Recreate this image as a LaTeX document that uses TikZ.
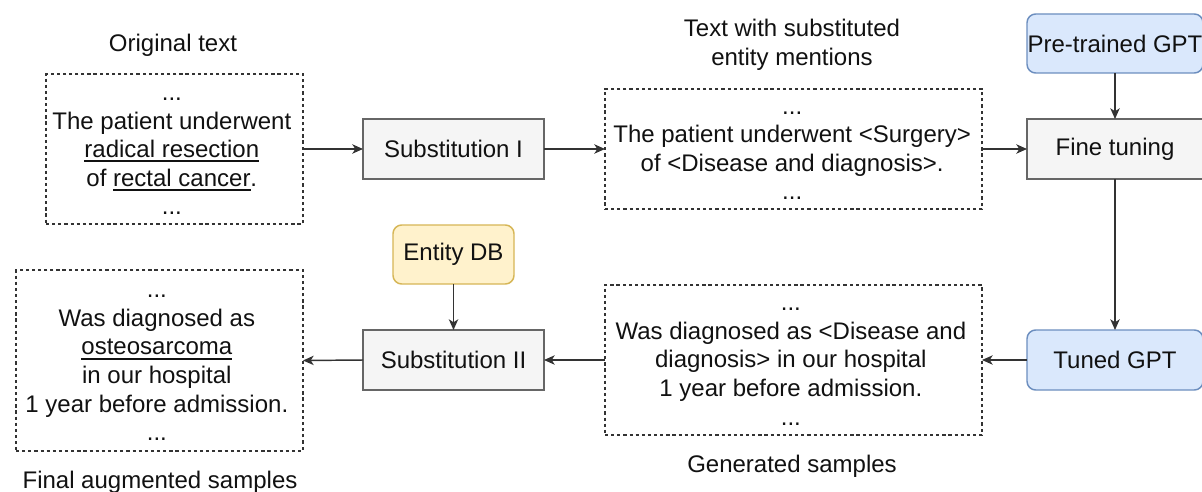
\documentclass[tikz,border=0pt]{standalone}
\usepackage{fontspec}
\setmainfont{Liberation Sans}
\usetikzlibrary{arrows.meta}
\definecolor{grayfill}{HTML}{F5F5F5}
\definecolor{grayline}{HTML}{666666}
\definecolor{bluefill}{HTML}{DAE8FC}
\definecolor{blueline}{HTML}{6C8EBF}
\definecolor{yelfill}{HTML}{FFF2CC}
\definecolor{yelline}{HTML}{D6B656}
\definecolor{txt}{HTML}{111111}
\definecolor{arr}{HTML}{333333}
\newcommand{\ulx}[1]{\setbox0\hbox{#1}\rlap{\vrule width\wd0 height -2.0pt depth 3.4pt}\box0}
\begin{document}
\begin{tikzpicture}[x=0.75pt,y=-0.75pt,
  every node/.style={font=\fontsize{18}{21.4}\selectfont, text=txt, outer sep=0pt, inner sep=0pt, align=center},
  dashbox/.style={draw=arr, line width=1.1pt, dash pattern=on 2.4pt off 2.2pt, fill=white},
  graybox/.style={draw=grayline, line width=1.1pt, fill=grayfill, minimum width=135.75pt, minimum height=45pt},
  bluebox/.style={draw=blueline, line width=1.1pt, fill=bluefill, rounded corners=6.5pt, minimum width=132pt},
  yelbox/.style={draw=yelline, line width=1.1pt, fill=yelfill, rounded corners=6.5pt, minimum width=90.75pt, minimum height=44.25pt},
  conn/.style={draw=arr, line width=1.1pt, -{Stealth[length=8pt, width=7pt, inset=2.2pt]}},
  title/.style={}]
\clip (0,0) rectangle (1202,492);
\fill[white] (0,0) rectangle (1202,492);

% titles
\node[title] (t1) at (173,45) {Original text};
\node[title] (t2) at (792,45) {Text with substituted\\entity mentions};
\node[title] (t3) at (792,466) {Generated samples};
\node[title] (t4) at (160,482) {Final augmented samples};

% text boxes
\node[dashbox, minimum width=192.75pt, minimum height=112.5pt] (b1) at (174.5,149) {};
\node (b1t) at ([xshift=-2pt,yshift=-5.6pt]b1.center)
  {...\\The patient underwent\\\ulx{radical resection}\\of \ulx{rectal cancer}.\\...};
\node[dashbox, minimum width=282.75pt, minimum height=90pt] (b2) at (793.5,149) {};
\node (b2t) at ([xshift=-1pt,yshift=-5pt]b2.center)
  {...\\The patient underwent <Surgery>\\of <Disease and diagnosis>.\\...};
\node[dashbox, minimum width=282.75pt, minimum height=112.5pt] (b3) at (793.5,360) {};
\node (b3t) at ([xshift=-2pt,yshift=-5pt]b3.center)
  {...\\Was diagnosed as <Disease and\\diagnosis> in our hospital\\1 year before admission.\\...};
\node[dashbox, minimum width=215.25pt, minimum height=135.75pt] (b4) at (159.5,360.5) {};
\node (b4t) at ([xshift=-2pt,yshift=-5.6pt]b4.center)
  {...\\Was diagnosed as\\\ulx{osteosarcoma}\\in our hospital\\1 year before admission.\\...};

% process boxes
\node[graybox] (s1) at (453.5,149) {Substitution I};
\node[graybox] (s2) at (453.5,360) {Substitution II};
\node[graybox, minimum width=132pt] (ft) at (1115,149) {Fine tuning};
\node[bluebox, minimum height=44.25pt] (pg) at (1115,43.5) {Pre-trained GPT};
\node[bluebox, minimum height=45pt] (tg) at (1115,360) {Tuned GPT};
\node[yelbox] (db) at (453.5,254.5) {Entity DB};

% connectors
\draw[conn] (b1.east) -- (s1.west);
\draw[conn] (s1.east) -- (b2.west);
\draw[conn] (b2.east) -- (ft.west);
\draw[conn] (pg.south) -- (ft.north);
\draw[conn] (ft.south) -- (tg.north);
\draw[conn] (tg.west) -- (b3.east);
\draw[conn] (b3.west) -- (s2.east);
\draw[conn] (s2.west) -- (b4.east);
\draw[conn] (db.south) -- (s2.north);
\end{tikzpicture}
\end{document}
